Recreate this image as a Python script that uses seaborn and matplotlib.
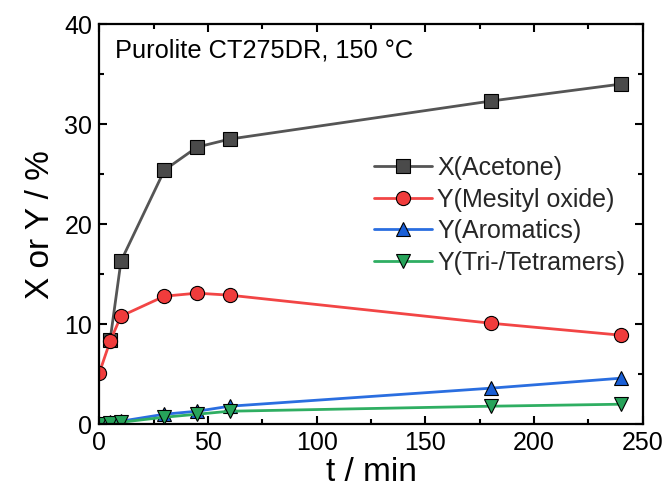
import matplotlib
matplotlib.use("Agg")
import matplotlib.pyplot as plt
import pandas as pd
import seaborn as sns
from matplotlib.ticker import MultipleLocator

sns.set_style("ticks")
plt.rcParams['font.family'] = ['Liberation Sans', 'DejaVu Sans']

time_min = [0, 5, 10, 30, 45, 60, 180, 240]
acetone_t = [5, 10, 30, 45, 60, 180, 240]
x_acetone = [8.4, 16.3, 25.4, 27.7, 28.5, 32.3, 34.0]
y_mesityl = [5.1, 8.3, 10.8, 12.8, 13.1, 12.9, 10.1, 8.9]
y_aromatics = [0.0, 0.2, 0.3, 1.0, 1.3, 1.8, 3.6, 4.6]
y_oligomers = [0.0, 0.1, 0.2, 0.7, 1.0, 1.3, 1.8, 2.0]

series = [
    ("X(Acetone)", acetone_t, x_acetone, "#555555", "#4a4a4a", "s"),
    ("Y(Mesityl oxide)", time_min, y_mesityl, "#f24545", "#f03c3c", "o"),
    ("Y(Aromatics)", time_min, y_aromatics, "#2a6ee0", "#1a5fd6", "^"),
    ("Y(Tri-/Tetramers)", time_min, y_oligomers, "#2fae62", "#27a35a", "v"),
]

fig = plt.figure(figsize=(6.66, 4.91), dpi=100)
ax = fig.add_axes([0.149, 0.136, 0.816, 0.815])

for name, t, y, lc, fc, mk in series:
    df = pd.DataFrame({"t": t, "y": y})
    sns.lineplot(data=df, x="t", y="y", ax=ax, color=lc, lw=2, marker=mk,
                 markersize=10.2, markerfacecolor=fc, markeredgecolor="black",
                 markeredgewidth=0.8, label=name)

ax.set_xlim(0, 250)
ax.set_ylim(0, 40)
ax.xaxis.set_major_locator(MultipleLocator(50))
ax.xaxis.set_minor_locator(MultipleLocator(25))
ax.yaxis.set_major_locator(MultipleLocator(10))
ax.yaxis.set_minor_locator(MultipleLocator(5))
ax.tick_params(which="both", direction="in", top=True, right=True, width=1.5,
               color="black", labelcolor="black")
ax.tick_params(which="major", length=6, labelsize=18, pad=5)
ax.tick_params(which="minor", length=3.5)
for s in ax.spines.values():
    s.set_linewidth(1.6)
    s.set_color("black")

ax.set_xlabel("t / min", fontsize=24, labelpad=1, color="black")
ax.set_ylabel("X or Y / %", fontsize=24, labelpad=6, color="black")
ax.text(0.029, 0.9175, "Purolite CT275DR, 150 °C", transform=ax.transAxes,
        fontsize=18.3, va="baseline", ha="left", color="black")

ax.legend(loc="upper left", bbox_to_anchor=(0.505, 0.67), frameon=False,
          fontsize=18, handlelength=2.35, handletextpad=0.2, labelspacing=0.3,
          borderpad=0, borderaxespad=0)

fig.savefig("out.png", dpi=100)
